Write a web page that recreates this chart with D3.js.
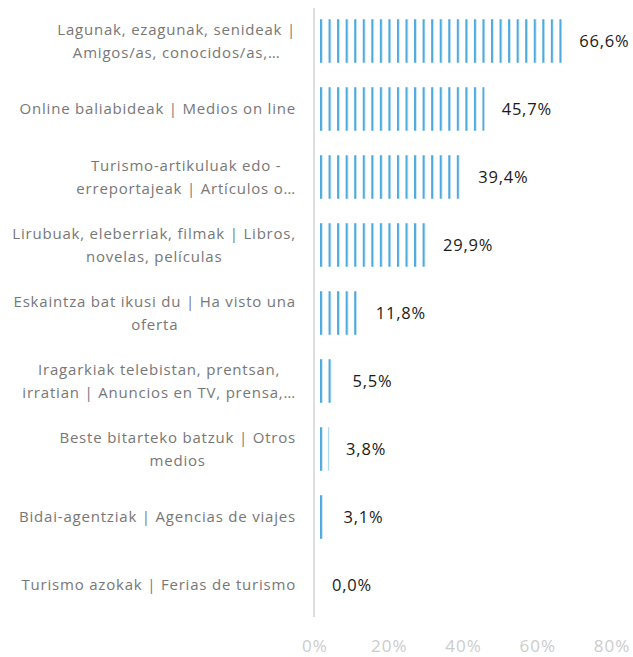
<!DOCTYPE html>
<html>
<head>
<meta charset="utf-8">
<script src="https://cdn.jsdelivr.net/npm/d3@7"></script>
<style>
  html, body { margin: 0; padding: 0; background: #fff; }
  svg { display: block; }
  text { font-family: "Open Sans", "Noto Sans", sans-serif; }
</style>
</head>
<body>
<svg id="chart" width="633" height="657"></svg>
<script>
// ---- data ----
const categories = [
  ["Lagunak, ezagunak, senideak |", "Amigos/as, conocidos/as,…"],
  ["Online baliabideak | Medios on line"],
  ["Turismo-artikuluak edo -", "erreportajeak | Artículos o…"],
  ["Lirubuak, eleberriak, filmak | Libros,", "novelas, películas"],
  ["Eskaintza bat ikusi du | Ha visto una", "oferta"],
  ["Iragarkiak telebistan, prentsan,", "irratian | Anuncios en TV, prensa,…"],
  ["Beste bitarteko batzuk | Otros", "medios"],
  ["Bidai-agentziak | Agencias de viajes"],
  ["Turismo azokak | Ferias de turismo"]
];
const values = [66.6, 45.7, 39.4, 29.9, 11.8, 5.5, 3.8, 3.1, 0.0];
const xTicks = [0, 20, 40, 60, 80];

// ---- chart ----
const svg = d3.select("#chart");
const locale = d3.formatLocale({decimal: ",", thousands: ".", grouping: [3], currency: ["", "€"]});
const fmtVal = v => locale.format(".1f")(v) + "%";

const x = d3.scaleLinear().domain([0, 80]).range([315, 612]);
const y = d3.scaleBand().domain(d3.range(categories.length)).range([7, 619])
  .paddingInner(0.36).paddingOuter(0.18);

const defs = svg.append("defs");
const pat = defs.append("pattern")
  .attr("id", "stripes")
  .attr("patternUnits", "userSpaceOnUse")
  .attr("x", 320).attr("y", 0)
  .attr("width", 8.55).attr("height", 10);
pat.append("rect").attr("x", 0).attr("y", 0).attr("width", 2.2).attr("height", 10)
  .attr("fill", "#4ea9dd");

// axis line
svg.append("line")
  .attr("x1", x(0) - 1).attr("x2", x(0) - 1)
  .attr("y1", 8).attr("y2", 617)
  .attr("stroke", "#dddddd").attr("stroke-width", 2);

// bars
svg.selectAll("rect.bar").data(values).join("rect")
  .attr("class", "bar")
  .attr("x", x(0))
  .attr("y", (d, i) => y(i))
  .attr("width", d => x(d) - x(0))
  .attr("height", y.bandwidth())
  .attr("fill", "url(#stripes)");

// value labels
svg.selectAll("text.val").data(values).join("text")
  .attr("class", "val")
  .attr("x", d => x(d) + 17)
  .attr("y", (d, i) => y(i) + y.bandwidth() / 2)
  .attr("dy", "0.35em")
  .attr("font-size", 16.5)
  .attr("letter-spacing", 0.8)
  .attr("fill", "#1a1a1a")
  .text(fmtVal);

// category labels (lines centered within block, block right-aligned)
const labelRight = 296;
const lineH = 23.5;
categories.forEach((lines, i) => {
  const cy = y(i) + y.bandwidth() / 2;
  const g = svg.append("g");
  const texts = lines.map((ln, j) => g.append("text")
    .attr("font-size", 15)
    .attr("letter-spacing", 0.8)
    .attr("fill", "#777777")
    .attr("text-anchor", "middle")
    .attr("y", cy + (j - (lines.length - 1) / 2) * lineH)
    .attr("dy", "0.35em")
    .text(ln));
  const w = d3.max(texts, t => t.node().getComputedTextLength());
  texts.forEach(t => t.attr("x", labelRight - w / 2));
});

// x axis tick labels
svg.selectAll("text.tick").data(xTicks).join("text")
  .attr("class", "tick")
  .attr("x", d => x(d))
  .attr("y", 646)
  .attr("dy", "0.35em")
  .attr("text-anchor", "middle")
  .attr("font-size", 17)
  .attr("letter-spacing", 1)
  .attr("fill", "#cccccc")
  .text(d => d + "%");
</script>
</body>
</html>
